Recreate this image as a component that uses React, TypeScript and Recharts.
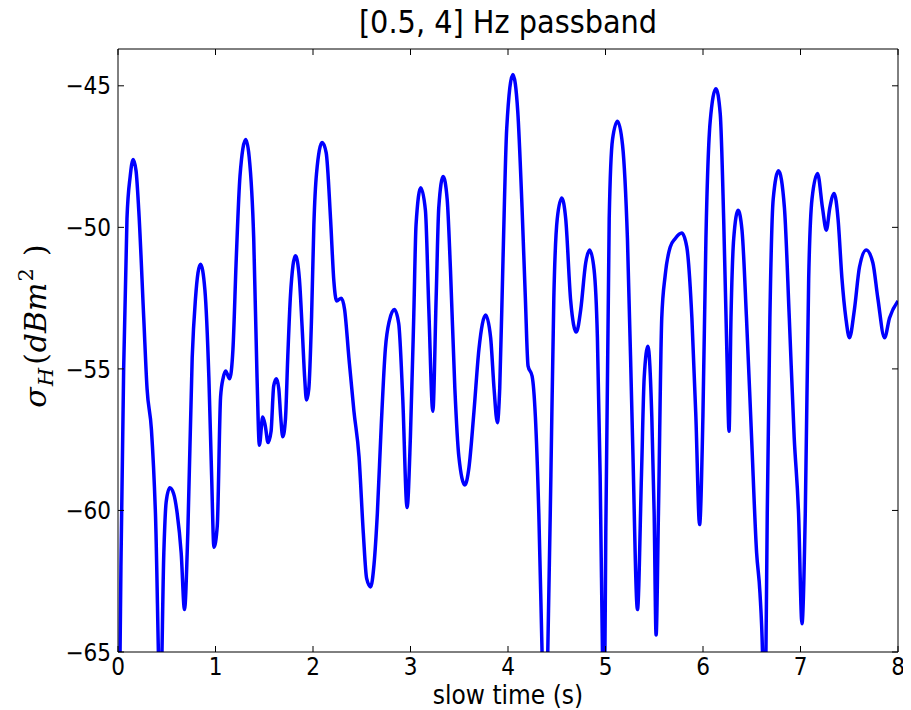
import React from 'react';
import { LineChart, Line, XAxis, YAxis } from 'recharts';

const times = [
  0.0, 0.03, 0.058, 0.092, 0.125, 0.155, 0.185, 0.213, 0.264, 0.298, 0.343, 0.384, 0.435, 0.47, 0.494, 0.531, 0.57, 0.607, 0.648, 0.682, 0.716, 0.761, 0.795, 0.846, 0.891, 0.932, 0.96, 0.984,
  1.018, 1.052, 1.08, 1.104, 1.145, 1.179, 1.213, 1.251, 1.31, 1.345, 1.392, 1.426, 1.45, 1.484, 1.51, 1.539, 1.57, 1.597, 1.625, 1.649, 1.669, 1.69, 1.717, 1.741, 1.769, 1.82, 1.86, 1.888, 1.916, 1.933, 1.957, 1.985,
  2.009, 2.036, 2.094, 2.135, 2.18, 2.214, 2.242, 2.29, 2.324, 2.368, 2.42, 2.472, 2.516, 2.55, 2.591, 2.626, 2.66, 2.7, 2.742, 2.783, 2.835, 2.879, 2.92, 2.965, 2.999,
  3.033, 3.057, 3.105, 3.153, 3.188, 3.229, 3.263, 3.29, 3.335, 3.376, 3.41, 3.455, 3.496, 3.558, 3.599, 3.651, 3.702, 3.771, 3.822, 3.857, 3.891, 3.915, 3.949, 3.987,
  4.05, 4.1, 4.144, 4.178, 4.206, 4.247, 4.281, 4.316, 4.35, 4.38, 4.408, 4.44, 4.47, 4.505, 4.551, 4.592, 4.643, 4.701, 4.746, 4.797, 4.838, 4.883, 4.917, 4.945, 4.969, 4.981, 4.993,
  5.003, 5.038, 5.072, 5.123, 5.175, 5.225, 5.277, 5.328, 5.369, 5.397, 5.435, 5.475, 5.499, 5.519, 5.543, 5.577, 5.612, 5.663, 5.714, 5.783, 5.834, 5.886, 5.927, 5.965, 5.999,
  6.03, 6.074, 6.133, 6.177, 6.212, 6.246, 6.267, 6.287, 6.315, 6.36, 6.4, 6.446, 6.498, 6.55, 6.584, 6.611, 6.627, 6.645, 6.659, 6.686, 6.72, 6.775, 6.835, 6.885, 6.935, 6.98,
  7.015, 7.049, 7.084, 7.118, 7.175, 7.225, 7.265, 7.301, 7.345, 7.385, 7.425, 7.465, 7.502, 7.553, 7.605, 7.674, 7.742, 7.793, 7.862, 7.913, 8.0,
];

const sigmaH = [
  -72, -62, -55, -49.7, -48.2, -47.6, -48.0, -49.4, -53.2, -55.7, -57.15, -60.1, -67, -61.5, -59.7, -59.2, -59.4, -60.1, -61.5, -63.5, -60.8, -54.6, -52.5, -51.3, -52.2, -55.3, -58.75, -61.3,
  -60.55, -56.0, -55.3, -55.07, -55.35, -54.3, -51.1, -48.2, -46.9, -47.5, -50.4, -55.3, -57.7, -56.7, -57.0, -57.6, -57.2, -55.6, -55.35, -55.7, -56.7, -57.4, -56.8, -54.6, -52.4, -51.0, -51.8, -53.5, -55.4, -56.1, -55.7, -53.2,
  -49.9, -48.1, -47.0, -47.36, -49.7, -51.9, -52.6, -52.5, -52.9, -54.6, -56.5, -58.1, -60.8, -62.4, -62.7, -61.9, -60.1, -57.0, -54.3, -53.3, -52.9, -53.4, -56.0, -59.9, -57.4,
  -53.2, -49.9, -48.6, -49.4, -52.9, -56.5, -52.5, -49.3, -48.2, -49.0, -51.5, -55.7, -58.1, -59.1, -58.5, -56.5, -54.3, -53.1, -53.9, -55.7, -56.9, -55.7, -51.1, -46.5,
  -44.6, -45.9, -49.3, -52.5, -54.9, -55.25, -56.7, -60.1, -65.1, -69, -65, -58.75, -52.5, -49.7, -48.96, -49.7, -52.6, -53.7, -52.9, -51.25, -50.8, -51.5, -53.9, -58.75, -65.1, -68, -65.5,
  -60.8, -49.7, -46.9, -46.25, -47.1, -50.4, -57.4, -63.5, -58.75, -55.3, -54.2, -56.7, -60.1, -64.4, -60.1, -53.2, -51.7, -50.7, -50.4, -50.2, -50.7, -53.2, -56.7, -60.5, -56.7,
  -50.4, -46.25, -45.1, -46.0, -49.7, -54.6, -57.2, -53.2, -50.4, -49.4, -50.1, -53.2, -57.4, -61.5, -62.9, -65.1, -68, -65.2, -60.1, -53.2, -49.0, -48.0, -49.3, -53.2, -57.4, -60.1,
  -64.0, -60.1, -51.8, -49.0, -48.1, -49.3, -50.1, -49.3, -48.8, -49.7, -51.8, -53.2, -53.9, -52.9, -51.4, -50.8, -51.25, -52.5, -53.9, -53.2, -52.6,
];

const xTicks = [0, 1, 2, 3, 4, 5, 6, 7, 8];
const yTicks = [-65, -60, -55, -50, -45];
const xDomain = [0, 8];
const yDomain = [-65, -43.7];

const titleText = '[0.5, 4] Hz passband';
const xLabelText = 'slow time (s)';

const data = times.map((t, i) => ({ t, v: sigmaH[i] }));

const FONT = '"DejaVu Sans Condensed", "DejaVu Sans", sans-serif';
const MATH = '"DejaVu Serif", serif';
const TICK = 6;
const fmt = (n: number) => (n < 0 ? '\u2212' + Math.abs(n) : String(n));

const BottomTick = (p: any) => (
  <g>
    <line x1={p.x} x2={p.x} y1={p.y} y2={p.y - TICK} stroke="#000" strokeWidth={1} />
    <text x={p.x} y={p.y + 23} textAnchor="middle" fontSize={24} fontFamily={FONT} fill="#000">
      {fmt(p.payload.value)}
    </text>
  </g>
);
const TopTick = (p: any) => (
  <line x1={p.x} x2={p.x} y1={p.y} y2={p.y + TICK} stroke="#000" strokeWidth={1} />
);
const LeftTick = (p: any) => (
  <g>
    <line x1={p.x} x2={p.x + TICK} y1={p.y} y2={p.y} stroke="#000" strokeWidth={1} />
    <text x={p.x - 7} y={p.y} dy="0.36em" textAnchor="end" fontSize={24} fontFamily={FONT} fill="#000">
      {fmt(p.payload.value)}
    </text>
  </g>
);
const RightTick = (p: any) => (
  <line x1={p.x} x2={p.x - TICK} y1={p.y} y2={p.y} stroke="#000" strokeWidth={1} />
);

function XLabel(p: any) {
  const vb = p.viewBox;
  return (
    <text x={vb.x + vb.width / 2} y={vb.y + 52} textAnchor="middle" fontSize={26} fontFamily={FONT} fill="#000">
      {xLabelText}
    </text>
  );
}
function TitleLabel(p: any) {
  const vb = p.viewBox;
  return (
    <text x={vb.x + vb.width / 2} y={vb.y - 15} textAnchor="middle" fontSize={32} fontFamily={FONT} fill="#000">
      {titleText}
    </text>
  );
}
function YLabel() {
  const cx = 46;
  const cy = 326;
  return (
    <text transform={`translate(${cx},${cy}) rotate(-90)`} textAnchor="middle" fontSize={30} fontFamily={MATH} fill="#000">
      <tspan fontStyle="italic">σ</tspan>
      <tspan fontStyle="italic" fontSize={21} dy={7} dx={1}>H</tspan>
      <tspan dy={-7} dx={3}>(</tspan>
      <tspan fontStyle="italic" dx={1}>dBm</tspan>
      <tspan fontSize={21} dy={-13} dx={1}>2</tspan>
      <tspan dy={13} dx={12}>)</tspan>
    </text>
  );
}

export default function App() {
  return (
    <div style={{ width: 911, height: 710, margin: '-8px 0 0 -8px', background: '#fff' }}>
      <LineChart width={911} height={710} data={data} margin={{ top: 48, right: 12, bottom: 0, left: 8 }}>
        <XAxis
          xAxisId="b"
          dataKey="t"
          type="number"
          domain={xDomain}
          ticks={xTicks}
          interval={0}
          allowDataOverflow
          height={58}
          tickSize={0}
          tickMargin={0}
          tickLine={false}
          tick={BottomTick}
          axisLine={{ stroke: '#000', strokeWidth: 1 }}
          label={<XLabel />}
        />
        <XAxis
          xAxisId="top"
          dataKey="t"
          orientation="top"
          type="number"
          domain={xDomain}
          ticks={xTicks}
          interval={0}
          allowDataOverflow
          height={1}
          tickSize={0}
          tickMargin={0}
          tickLine={false}
          tick={TopTick}
          axisLine={{ stroke: '#000', strokeWidth: 1 }}
          label={<TitleLabel />}
        />
        <YAxis
          yAxisId="l"
          dataKey="v"
          type="number"
          domain={yDomain}
          ticks={yTicks}
          interval={0}
          allowDataOverflow
          width={110}
          tickSize={0}
          tickMargin={0}
          tickLine={false}
          tick={LeftTick}
          axisLine={{ stroke: '#000', strokeWidth: 1 }}
          label={<YLabel />}
        />
        <YAxis
          yAxisId="r"
          dataKey="v"
          orientation="right"
          type="number"
          domain={yDomain}
          ticks={yTicks}
          interval={0}
          allowDataOverflow
          width={1}
          tickSize={0}
          tickMargin={0}
          tickLine={false}
          tick={RightTick}
          axisLine={{ stroke: '#000', strokeWidth: 1 }}
        />
        <Line
          xAxisId="b"
          yAxisId="l"
          dataKey="v"
          type="monotone"
          stroke="#0000ff"
          strokeWidth={3.5}
          dot={false}
          activeDot={false}
          isAnimationActive={false}
        />
      </LineChart>
    </div>
  );
}
